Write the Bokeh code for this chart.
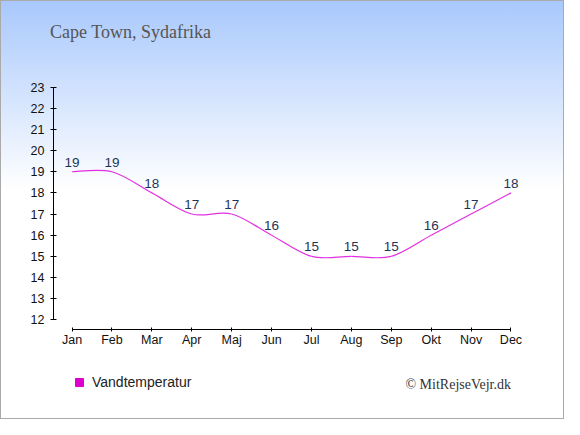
from bokeh.plotting import figure
from bokeh.layouts import column
from bokeh.models import (Range1d, FixedTicker, Legend, LegendItem, Label,
                          ColumnDataSource)
from bokeh.core.properties import value
from bokeh.embed import file_html
from bokeh.resources import INLINE

# ---- data ----
months = ["Jan", "Feb", "Mar", "Apr", "Maj", "Jun",
          "Jul", "Aug", "Sep", "Okt", "Nov", "Dec"]
water_temp = [19, 19, 18, 17, 17, 16, 15, 15, 15, 16, 17, 18]
y_ticks = list(range(12, 24))
title_text = "Cape Town, Sydafrika"
series_name = "Vandtemperatur"
credit_text = "\u00a9 MitRejseVejr.dk"

xs = list(range(len(months)))

# smooth (Catmull-Rom style) bezier segments through the data points
x0, y0, x1, y1, cx0, cy0, cx1, cy1 = [], [], [], [], [], [], [], []
n = len(xs)
for i in range(n - 1):
    ip = max(i - 1, 0)
    inx = min(i + 2, n - 1)
    x0.append(xs[i]); y0.append(water_temp[i])
    x1.append(xs[i + 1]); y1.append(water_temp[i + 1])
    cx0.append(xs[i] + (xs[i + 1] - xs[ip]) / 6.0)
    cy0.append(water_temp[i] + (water_temp[i + 1] - water_temp[ip]) / 6.0)
    cx1.append(xs[i + 1] - (xs[inx] - xs[i]) / 6.0)
    cy1.append(water_temp[i + 1] - (water_temp[inx] - water_temp[i]) / 6.0)

W = 564
H0, H1, H2 = 60, 305, 54
BL, BR = 53, 34
XR = (-0.464, 11.489)


def strip(height, xr, bl, br):
    f = figure(width=W, height=height, output_backend="svg",
               toolbar_location=None, x_range=Range1d(*xr),
               y_range=Range1d(0, height), min_border_left=bl,
               min_border_right=br, min_border_top=0, min_border_bottom=0)
    f.axis.visible = False
    f.grid.visible = False
    f.border_fill_color = None
    f.background_fill_color = None
    f.outline_line_color = None
    f.title.visible = False
    return f


# ---- top strip: title ----
t = strip(H0, (0, W), 0, 0)
t.frame_align = False
t.add_layout(Label(x=49.5, y=H0 - 31.5, text=title_text, text_align="left",
                   text_baseline="middle", text_font="Liberation Serif",
                   text_font_size="18px", text_color="#555555"))

# ---- main chart ----
p = figure(width=W, height=H1, output_backend="svg", toolbar_location=None,
           x_range=Range1d(*XR),
           y_range=Range1d(11.54, 23.22),
           min_border_left=BL, min_border_right=BR,
           min_border_top=22, min_border_bottom=36)
p.border_fill_color = None
p.background_fill_color = None
p.outline_line_color = None
p.grid.visible = False
p.title.visible = False

# axes
p.xaxis.ticker = FixedTicker(ticks=xs)
p.xaxis.major_label_overrides = {i: m for i, m in enumerate(months)}
p.xaxis.bounds = (0, 11)
p.yaxis.ticker = FixedTicker(ticks=y_ticks)
p.yaxis.bounds = (12, 23)
for ax in (p.xaxis, p.yaxis):
    ax.axis_line_color = "#000000"
    ax.major_tick_line_color = "#000000"
    ax.minor_tick_line_color = None
    ax.major_label_text_font = "Liberation Sans"
    ax.major_label_text_font_size = "12.5px"
    ax.major_label_text_color = "#111111"
p.xaxis.major_tick_in = 2
p.xaxis.major_tick_out = 2
p.xaxis.major_label_standoff = 1
p.yaxis.major_tick_in = 3
p.yaxis.major_tick_out = 3
p.yaxis.major_label_standoff = 6

# curve
src = ColumnDataSource(dict(x0=x0, y0=y0, x1=x1, y1=y1,
                            cx0=cx0, cy0=cy0, cx1=cx1, cy1=cy1))
line = p.bezier(x0="x0", y0="y0", x1="x1", y1="y1", cx0="cx0", cy0="cy0",
                cx1="cx1", cy1="cy1", source=src, line_color="#e030e0",
                line_width=1.2)

# value labels
lab = ColumnDataSource(dict(x=xs, y=water_temp, t=[str(v) for v in water_temp]))
p.text(x="x", y="y", text="t", source=lab, text_align="center",
       text_baseline="bottom", y_offset=-5, text_font=value("Liberation Sans"),
       text_font_size="13.5px", text_color="#1f3556")

# ---- bottom strip: legend + credit ----
q = strip(H2, XR, BL, BR)

# legend swatch renderer (kept outside the visible range; used for the legend)
sq = q.quad(left=[-9], right=[-8], top=[1], bottom=[0], fill_color="#dd00cc",
            line_color="#dd00cc")
legend = Legend(items=[LegendItem(label=series_name, renderers=[sq])],
                location=(21, 29))
legend.background_fill_alpha = 0
legend.border_line_color = None
legend.padding = 0
legend.margin = 0
legend.glyph_width = 10
legend.glyph_height = 10
legend.label_height = 10
legend.label_standoff = 8
legend.label_text_font = "Liberation Sans"
legend.label_text_font_size = "14px"
legend.label_text_color = "#222222"
legend.label_text_baseline = "middle"
q.add_layout(legend)

credit = Label(x=11, y=35.5, text=credit_text,
               text_align="right", text_baseline="middle",
               text_font="Liberation Serif", text_font_size="14px",
               text_color="#333333")
q.add_layout(credit)

page = column(t, p, q, spacing=0, styles={
    "background-image": "linear-gradient(to bottom, #a8c8fc 0px, #ffffff 190px, #ffffff 100%)",
    "outline": "1px solid #aaaaaa",
    "outline-offset": "-1px",
})

open("out.html", "w").write(file_html(page, INLINE))
